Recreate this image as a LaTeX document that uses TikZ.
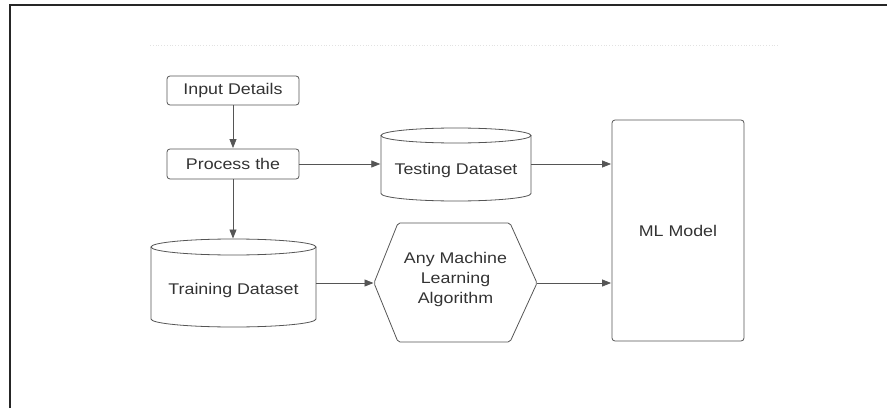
\documentclass[tikz,border=0pt]{standalone}
\usepackage{fontspec}
\setmainfont[FakeStretch=1.15]{Liberation Sans}
\usetikzlibrary{arrows.meta,calc}

\definecolor{ink}{HTML}{333333}
\definecolor{edge}{HTML}{555555}
\definecolor{faint}{HTML}{E2E2E2}

\tikzset{
  every node/.style={font=\fontsize{15.5}{20}\selectfont, text=ink},
  procbox/.style={draw=edge, line width=0.8pt, rounded corners=3pt,
    minimum width=132pt, minimum height=29pt, inner sep=0pt},
  modelbox/.style={draw=edge, line width=0.8pt, rounded corners=3pt,
    minimum width=132pt, minimum height=221pt, inner sep=0pt},
  plainlbl/.style={inner sep=0pt, align=center},
  outline/.style={draw=edge, line width=0.8pt},
  arr/.style={draw=edge, line width=0.8pt,
    -{Triangle[length=9pt,width=7pt]}, shorten >=0.5pt},
  frame/.style={draw=black!85, line width=2pt},
}

\begin{document}
\begin{tikzpicture}[x=1pt,y=1pt]
  \useasboundingbox (0,0) rectangle (887,408);

  % outer frame (top and left edges)
  \draw[frame] (10,0) -- (10,402.5) -- (887,402.5);

  % faint dotted guide line
  \draw[faint, line width=0.8pt, dotted] (150,363) -- (778,363);

  % process boxes
  \node[procbox] (input) at (233,317.5) {Input Details};
  \node[procbox, minimum height=30pt] (proc) at (233,244) {Process the};

  % testing dataset cylinder
  \draw[outline] (381,272.5) -- (381,214.5)
    arc[start angle=180, end angle=360, x radius=75, y radius=7.5]
    -- (531,272.5);
  \draw[outline] (456,272.5) ellipse[x radius=75, y radius=7.5];
  \node[plainlbl, minimum width=150pt] (test) at (456,238) {Testing Dataset};

  % training dataset cylinder
  \coordinate (traintop) at (233,169);
  \draw[outline] (151,161) -- (151,89)
    arc[start angle=180, end angle=360, x radius=82.5, y radius=8]
    -- (316,161);
  \draw[outline] (233.5,161) ellipse[x radius=82.5, y radius=8];
  \node[plainlbl, minimum width=165pt] (train) at (233.5,118) {Training Dataset};

  % learning algorithm hexagon
  \draw[outline, rounded corners=2pt]
    (374,125) -- (398,185) -- (510,185) -- (537,125) -- (510,66) -- (398,66) -- cycle;
  \coordinate (hexW) at (374,125);
  \coordinate (hexE) at (537,125);
  \node[plainlbl] (algo) at (455.5,128.5) {Any Machine\\Learning\\Algorithm};

  % model box
  \node[modelbox] (model) at (678,177.5) {ML Model};

  % connectors
  \draw[arr] (input.south) -- (proc.north);
  \draw[arr] (proc.south) -- (traintop);
  \draw[arr] (proc.east) -- (proc.east -| test.west);
  \draw[arr] (proc.east -| test.east) -- (proc.east -| model.west);
  \draw[arr] (train.east |- hexW) -- (hexW);
  \draw[arr] (hexE) -- (hexE -| model.west);
\end{tikzpicture}
\end{document}
